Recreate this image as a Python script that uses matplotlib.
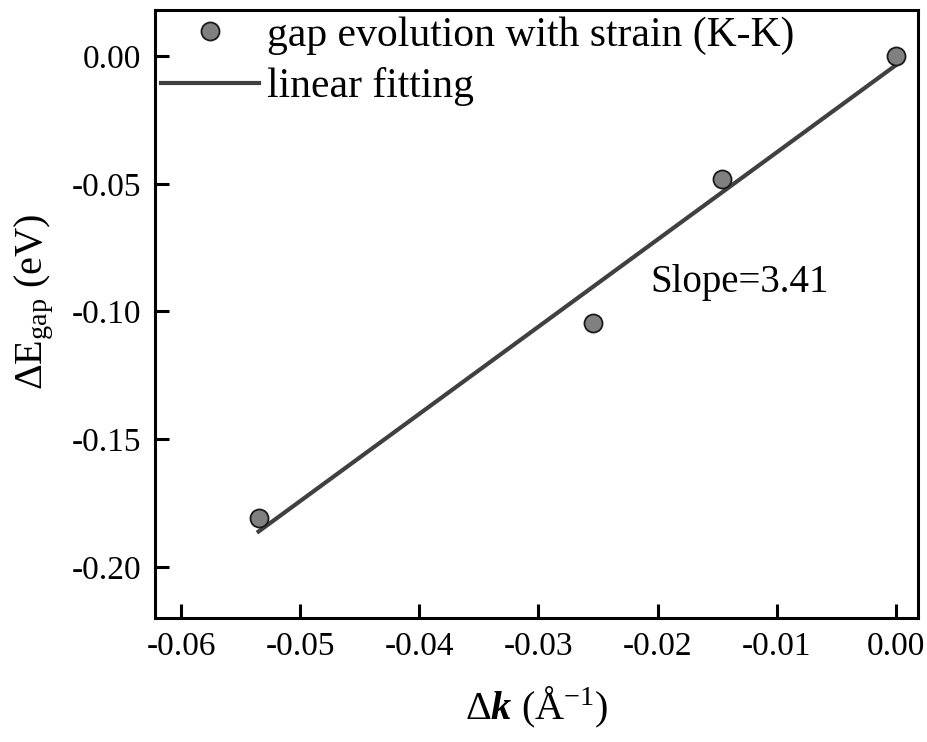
import numpy as np
import matplotlib
matplotlib.use("Agg")
import matplotlib.pyplot as plt

plt.rcParams['font.family'] = ['Liberation Serif', 'DejaVu Serif']
plt.rcParams['mathtext.fontset'] = 'custom'
plt.rcParams['mathtext.rm'] = 'Liberation Serif'
plt.rcParams['mathtext.it'] = 'Liberation Serif:italic'
plt.rcParams['mathtext.bf'] = 'Liberation Serif:bold'
plt.rcParams['mathtext.bfit'] = 'Liberation Serif:bold:italic'

# change in k and gap change (K-K)
dk = [0.0, -0.0146, -0.0254, -0.0535]
dgap = [0.0, -0.0481, -0.1045, -0.1808]

xticks = [-0.06, -0.05, -0.04, -0.03, -0.02, -0.01, 0.00]
yticks = [0.00, -0.05, -0.10, -0.15, -0.20]

# linear fit through the points
slope, icpt = np.polyfit(dk, dgap, 1)
xfit = np.array([min(dk), max(dk)])
yfit = slope * xfit + icpt

fig = plt.figure(figsize=(9.28, 7.42), dpi=100)
ax = fig.add_axes([0.167, 0.167, 0.822, 0.8195])

ax.plot(xfit, yfit, color='#404040', lw=3, label='linear fitting', zorder=2)
ax.plot(dk, dgap, 'o', ms=13, mfc='#808080', mec='#1a1a1a', mew=1.3,
        linestyle='none', label='gap evolution with strain (K-K)', zorder=3)

ax.text(-0.0206, -0.0885, 'Slope=%.2f' % slope, fontsize=28, va='center', ha='left')

ax.set_xlim(-0.0622, 0.00185)
ax.set_ylim(-0.22, 0.018)
ax.set_xticks(xticks)
ax.set_yticks(yticks)
ax.set_xticklabels(['%.2f' % t for t in xticks])
ax.set_yticklabels(['%.2f' % t for t in yticks])
ax.tick_params(direction='in', length=10, width=2.2, labelsize=24, pad=10)

for s in ax.spines.values():
    s.set_linewidth(2.2)

ax.set_xlabel(r'$\Delta\boldsymbol{k}$ ($\mathrm{\AA^{-1}}$)', fontsize=29, labelpad=16)
ax.set_ylabel(r'$\Delta\mathrm{E_{gap}}$ (eV)', fontsize=29)
ax.yaxis.set_label_coords(-0.13, 0.52)

h, l = ax.get_legend_handles_labels()
ax.legend(h[::-1], l[::-1], loc='upper left', frameon=False, fontsize=30,
          handlelength=2.35, handletextpad=0.2, borderaxespad=0.15,
          labelspacing=0.3, borderpad=0.0)

fig.savefig('out.png', dpi=100)
